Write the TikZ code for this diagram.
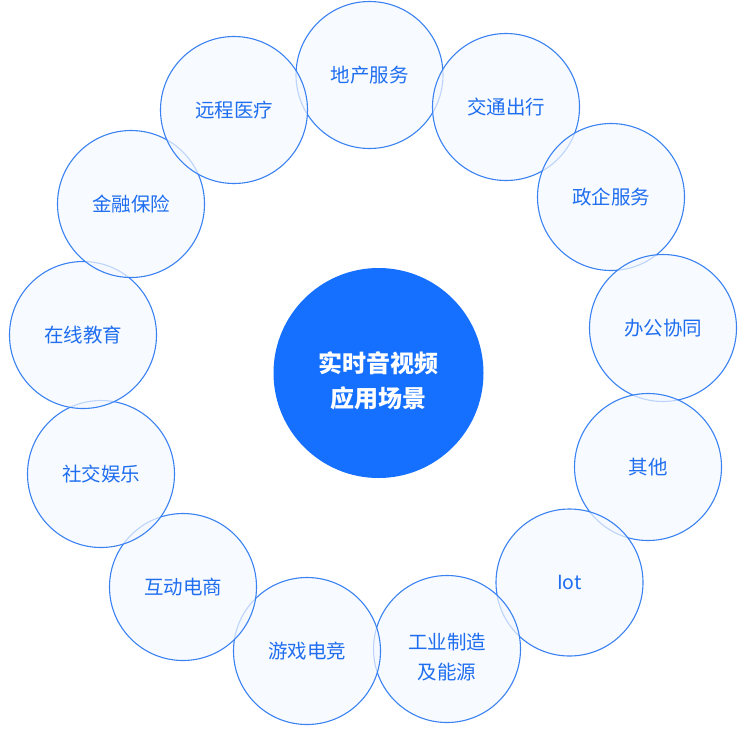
\documentclass[tikz,border=0pt]{standalone}
\usepackage{fontspec}
\setmainfont{Noto Sans CJK SC}
\definecolor{hubblue}{HTML}{1570FF}
\definecolor{ringline}{HTML}{3A82F2}
\definecolor{ringfill}{HTML}{F4F8FF}
\definecolor{ringtext}{HTML}{1F6EF0}

\begin{document}
\begin{tikzpicture}[
    x=1pt, y=-1pt,
    hub/.style={circle, fill=hubblue, minimum size=210pt, inner sep=0pt},
    hubtext/.style={align=center, text=white, font=\fontsize{24}{35}\selectfont\bfseries, yshift=-8pt},
    scene/.style={circle, draw=ringline, line width=1.1pt, fill=ringfill, fill opacity=0.7, text opacity=1, minimum size=147pt, inner sep=0pt, align=center, text=ringtext, font=\fontsize{19.5}{30}\selectfont},
    scenetext/.style={align=center, text=ringtext, font=\fontsize{19.5}{30}\selectfont, yshift=-8pt}
]
\useasboundingbox (0,0) rectangle (746,742);
\node[hub, label={[hubtext]center:实时音视频\\应用场景}] (core) at (378.5,373) {};
\node[scene] (estate) at (369.5,75) {地产服务};
\node[scene] (traffic) at (506,107) {交通出行};
\node[scene] (gov) at (611,197) {政企服务};
\node[scene] (office) at (663,328) {办公协同};
\node[scene] (other) at (648,467) {其他};
\node[scene] (iot) at (569.5,582.5) {Iot};
\node[scene, label={[scenetext]center:工业制造\\及能源}] (industry) at (447,649) {};
\node[scene] (game) at (307,651) {游戏电竞};
\node[scene] (shop) at (183,587) {互动电商};
\node[scene] (social) at (101,474) {社交娱乐};
\node[scene] (edu) at (83,335) {在线教育};
\node[scene] (finance) at (131,204) {金融保险};
\node[scene] (medical) at (234,110) {远程医疗};
\end{tikzpicture}
\end{document}
